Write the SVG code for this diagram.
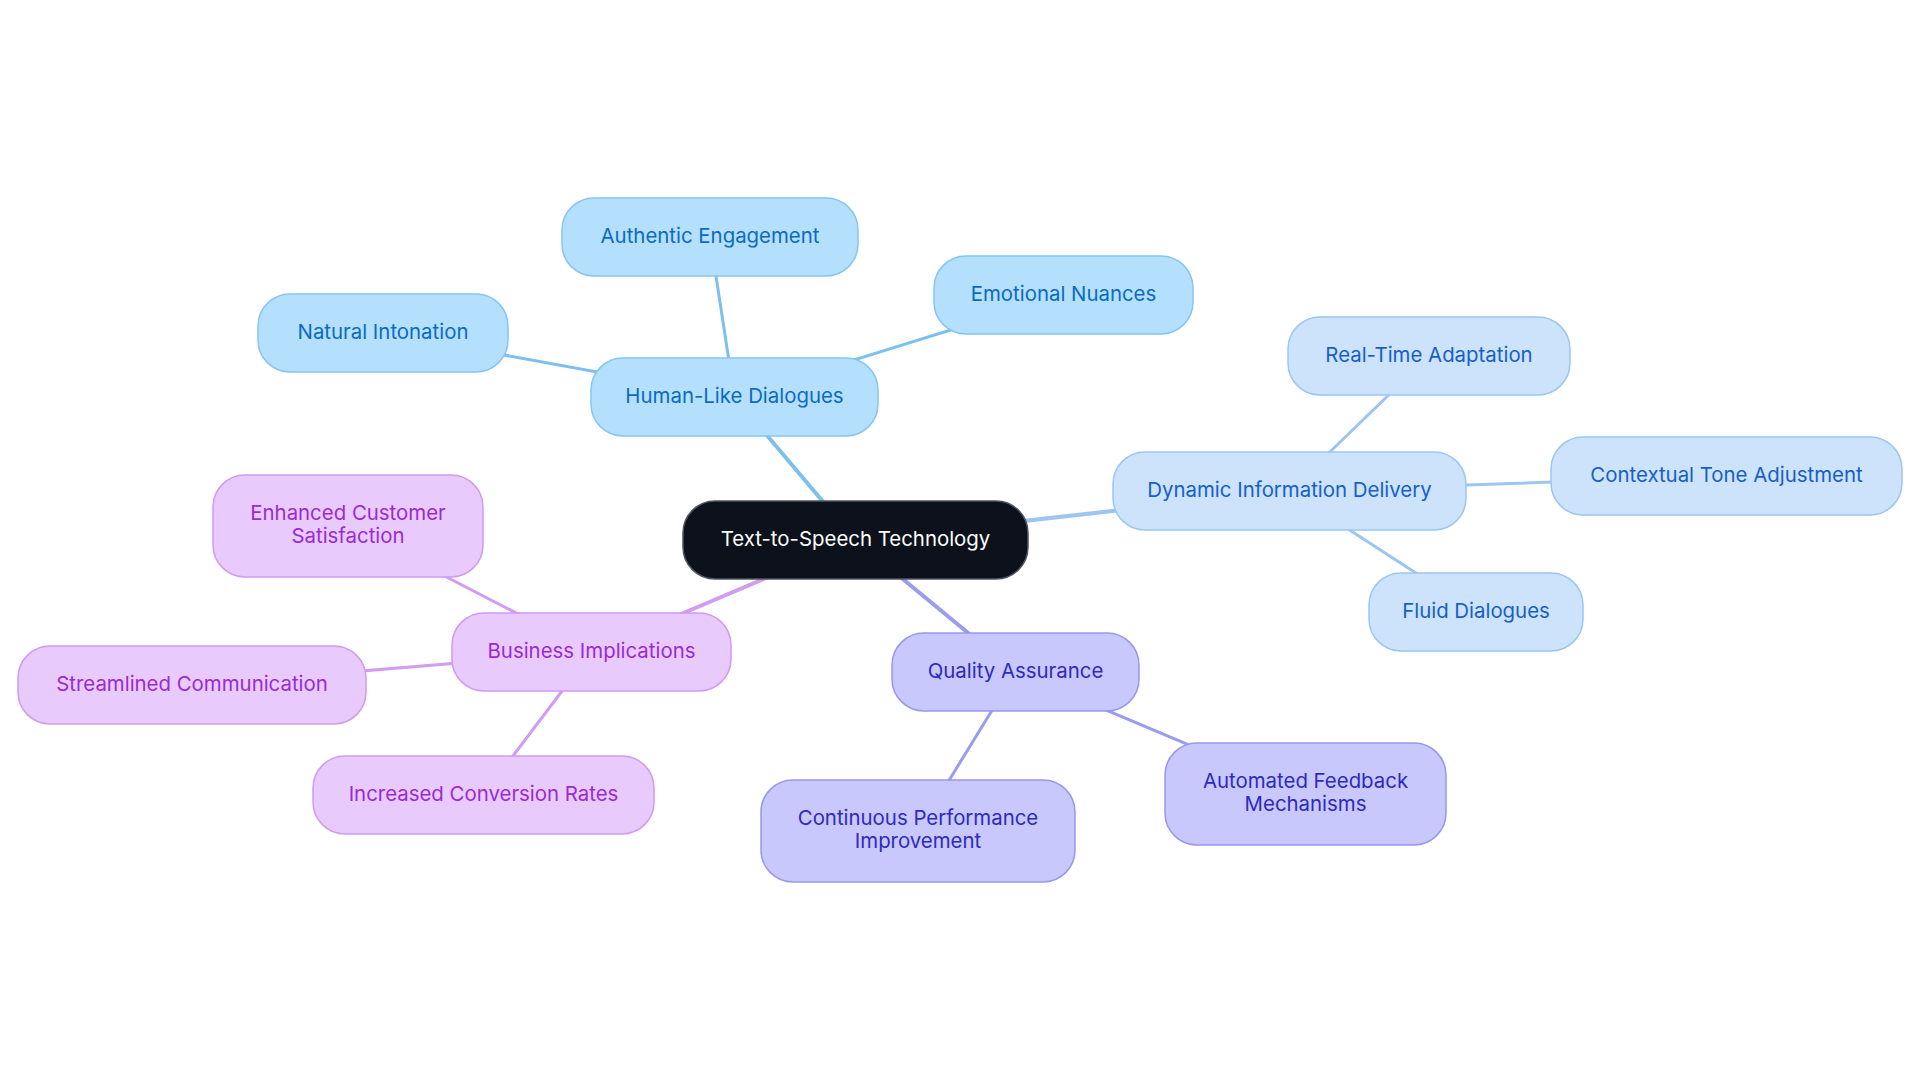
<svg xmlns="http://www.w3.org/2000/svg" width="1920" height="1083" viewBox="0 0 1920 1083">
<style>
text{font-family:Inter,"Noto Sans","Liberation Sans",sans-serif;font-size:20.4px;text-anchor:middle}
.e{fill:none;stroke-linecap:round}
.l1{stroke-width:4}
.l2{stroke-width:3}
.cb{stroke:#7cc0f0}
.cd{stroke:#9dc5f2}
.cq{stroke:#9b9cf0}
.cp{stroke:#d29cf2}
.root rect{fill:#0c111b;stroke:#50565e;stroke-width:1.5}
.root text{fill:#ffffff}
.b rect{fill:#b5e0fd;stroke:#84c5f5;stroke-width:1.5}
.b text{fill:#0a6bc2}
.d rect{fill:#cde3fb;stroke:#9cc6f2;stroke-width:1.5}
.d text{fill:#1560c8}
.q rect{fill:#c8c8fc;stroke:#9797ee;stroke-width:1.5}
.q text{fill:#2e2ac0}
.p rect{fill:#e8cafd;stroke:#d09af3;stroke-width:1.5}
.p text{fill:#9a2ad6}
</style>
<rect width="1920" height="1083" fill="#ffffff"/>
<g id="connectors">
<line class="e l1 cb" x1="855.5" y1="540" x2="734.5" y2="397"/>
<line class="e l2 cb" x1="734.5" y1="397" x2="710" y2="237"/>
<line class="e l2 cb" x1="734.5" y1="397" x2="1063.5" y2="295"/>
<line class="e l2 cb" x1="734.5" y1="397" x2="383" y2="333"/>
<line class="e l1 cd" x1="855.5" y1="540" x2="1289.5" y2="491"/>
<line class="e l2 cd" x1="1289.5" y1="491" x2="1429" y2="356"/>
<line class="e l2 cd" x1="1289.5" y1="491" x2="1726.5" y2="476"/>
<line class="e l2 cd" x1="1289.5" y1="491" x2="1476" y2="612"/>
<line class="e l1 cq" x1="855.5" y1="540" x2="1015.5" y2="672"/>
<line class="e l2 cq" x1="1015.5" y1="672" x2="918" y2="831"/>
<line class="e l2 cq" x1="1015.5" y1="672" x2="1305.5" y2="794"/>
<line class="e l1 cp" x1="855.5" y1="540" x2="591.5" y2="652"/>
<line class="e l2 cp" x1="591.5" y1="652" x2="348" y2="526"/>
<line class="e l2 cp" x1="591.5" y1="652" x2="192" y2="685"/>
<line class="e l2 cp" x1="591.5" y1="652" x2="483.5" y2="795"/>
</g>
<g id="n-root" class="root"><rect x="683" y="501" width="345" height="78" rx="32"/><text x="855.5" y="546">Text-to-Speech Technology</text></g>
<g id="n-human" class="b"><rect x="591" y="358" width="287" height="78" rx="32"/><text x="734.5" y="403">Human-Like Dialogues</text></g>
<g id="n-authentic" class="b"><rect x="562" y="198" width="296" height="78" rx="32"/><text x="710" y="243">Authentic Engagement</text></g>
<g id="n-emotional" class="b"><rect x="934" y="256" width="259" height="78" rx="32"/><text x="1063.5" y="301">Emotional Nuances</text></g>
<g id="n-natural" class="b"><rect x="258" y="294" width="250" height="78" rx="32"/><text x="383" y="339">Natural Intonation</text></g>
<g id="n-dynamic" class="d"><rect x="1113" y="452" width="353" height="78" rx="32"/><text x="1289.5" y="497">Dynamic Information Delivery</text></g>
<g id="n-realtime" class="d"><rect x="1288" y="317" width="282" height="78" rx="32"/><text x="1429" y="362">Real-Time Adaptation</text></g>
<g id="n-contextual" class="d"><rect x="1551" y="437" width="351" height="78" rx="32"/><text x="1726.5" y="482">Contextual Tone Adjustment</text></g>
<g id="n-fluid" class="d"><rect x="1369" y="573" width="214" height="78" rx="32"/><text x="1476" y="618">Fluid Dialogues</text></g>
<g id="n-quality" class="q"><rect x="892" y="633" width="247" height="78" rx="32"/><text x="1015.5" y="678">Quality Assurance</text></g>
<g id="n-continuous" class="q"><rect x="761" y="780" width="314" height="102" rx="32"/><text x="918" y="825">Continuous Performance</text><text x="918" y="848">Improvement</text></g>
<g id="n-automated" class="q"><rect x="1165" y="743" width="281" height="102" rx="32"/><text x="1305.5" y="788">Automated Feedback</text><text x="1305.5" y="811">Mechanisms</text></g>
<g id="n-business" class="p"><rect x="452" y="613" width="279" height="78" rx="32"/><text x="591.5" y="658">Business Implications</text></g>
<g id="n-enhanced" class="p"><rect x="213" y="475" width="270" height="102" rx="32"/><text x="348" y="520">Enhanced Customer</text><text x="348" y="543">Satisfaction</text></g>
<g id="n-streamlined" class="p"><rect x="18" y="646" width="348" height="78" rx="32"/><text x="192" y="691">Streamlined Communication</text></g>
<g id="n-increased" class="p"><rect x="313" y="756" width="341" height="78" rx="32"/><text x="483.5" y="801">Increased Conversion Rates</text></g>
</svg>
